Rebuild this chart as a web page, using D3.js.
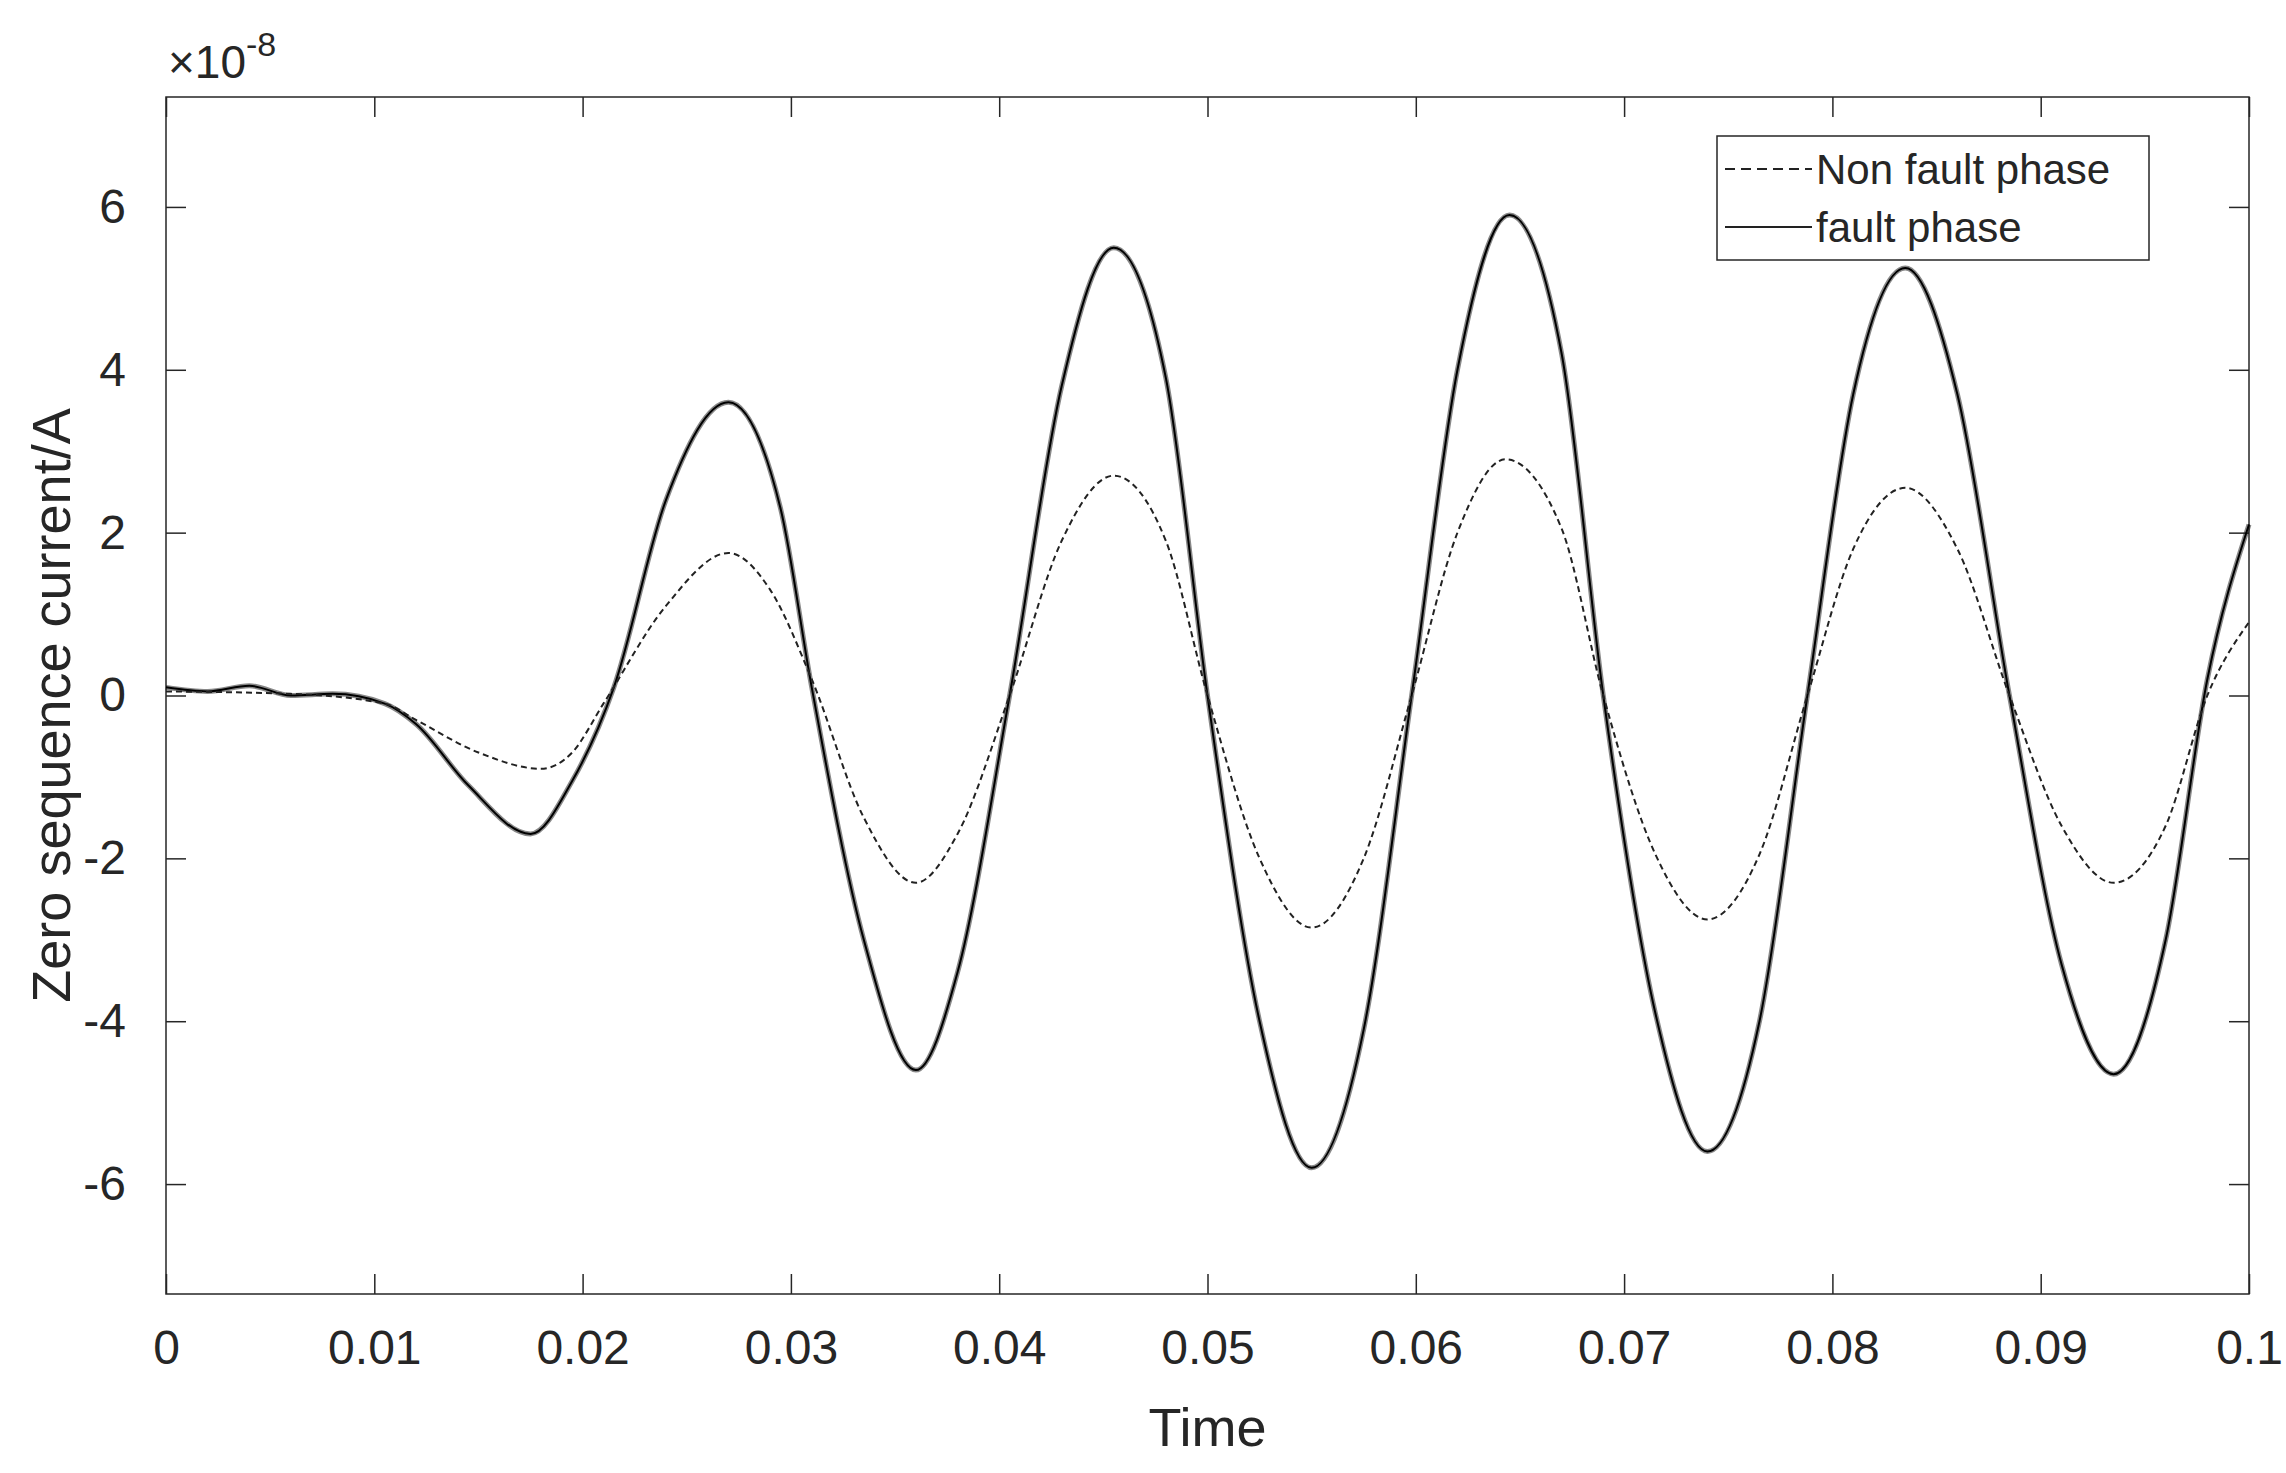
<!DOCTYPE html>
<html lang="en">
<head>
<meta charset="UTF-8">
<script src="https://d3js.org/d3.v7.min.js"></script>
<style>
  body { margin: 0; background: #fff; }
  text { font-family: Arial, "Liberation Sans", sans-serif; fill: #262626; }
</style>
</head>
<body>
<div id="chart"></div>
<script>
  // values in units of 1e-8 A
  const faultT = [0, 0.002, 0.004, 0.006, 0.008, 0.0105, 0.012, 0.0145, 0.0175, 0.0195, 0.0215, 0.024, 0.027, 0.0295, 0.031, 0.0335, 0.036, 0.038, 0.0405, 0.043, 0.0455, 0.048, 0.050, 0.0525, 0.055, 0.0575, 0.0598, 0.062, 0.0645, 0.067, 0.069, 0.0715, 0.074, 0.0765, 0.0788, 0.081, 0.0835, 0.086, 0.0885, 0.091, 0.0935, 0.096, 0.098, 0.1];
  const faultV = [0.1, 0.05, 0.12, 0.0, 0.02, -0.1, -0.35, -1.1, -1.7, -1.05, 0.1, 2.4, 3.6, 2.3, 0.1, -3.0, -4.6, -3.4, 0.0, 3.8, 5.5, 3.9, 0.0, -4.0, -5.8, -4.1, 0.0, 4.0, 5.9, 4.2, 0.0, -3.9, -5.6, -4.0, 0.0, 3.7, 5.25, 3.7, 0.0, -3.3, -4.65, -3.0, 0.2, 2.1];

  const nonT = [0, 0.006, 0.0105, 0.012, 0.015, 0.018, 0.0195, 0.021, 0.024, 0.027, 0.029, 0.031, 0.0335, 0.036, 0.038, 0.0405, 0.043, 0.0455, 0.048, 0.050, 0.0525, 0.055, 0.0575, 0.0598, 0.062, 0.0643, 0.067, 0.069, 0.0715, 0.074, 0.0765, 0.0788, 0.081, 0.0835, 0.086, 0.0885, 0.091, 0.0935, 0.096, 0.098, 0.1];
  const nonV = [0.05, 0.02, -0.1, -0.3, -0.7, -0.9, -0.7, -0.1, 1.1, 1.75, 1.3, 0.2, -1.5, -2.3, -1.7, 0.0, 1.9, 2.7, 1.9, 0.0, -2.0, -2.85, -2.0, 0.0, 2.0, 2.9, 2.05, 0.0, -1.95, -2.75, -1.95, 0.0, 1.8, 2.55, 1.8, 0.0, -1.6, -2.3, -1.6, 0.0, 0.9];

  const xTicks = [0, 0.01, 0.02, 0.03, 0.04, 0.05, 0.06, 0.07, 0.08, 0.09, 0.1];
  const yTicks = [-6, -4, -2, 0, 2, 4, 6];
  const legendLabels = ["Non fault phase", "fault phase"];

  const W = 2286, H = 1473;
  const L = 166, R = 2249, T = 97, B = 1294;

  const svg = d3.select("#chart").append("svg").attr("width", W).attr("height", H);

  const x = d3.scaleLinear().domain([0, 0.1]).range([L, R]);
  const y = d3.scaleLinear().domain([-7.35, 7.35]).range([B, T]);

  const fault = faultT.map((t, i) => [t, faultV[i]]);
  const non = nonT.map((t, i) => [t, nonV[i]]);

  const line = d3.line().x(d => x(d[0])).y(d => y(d[1])).curve(d3.curveMonotoneX);

  // axes box
  svg.append("rect").attr("x", L).attr("y", T).attr("width", R - L).attr("height", B - T)
    .attr("fill", "none").attr("stroke", "#262626").attr("stroke-width", 1.5);

  const fmt = d => d === 0 ? "0" : String(d);
  const ax = svg.append("g").attr("transform", `translate(0,${B})`)
    .call(d3.axisBottom(x).tickValues(xTicks).tickFormat(fmt).tickSizeInner(-20).tickSizeOuter(0).tickPadding(36));
  const axT = svg.append("g").attr("transform", `translate(0,${T})`)
    .call(d3.axisTop(x).tickValues(xTicks).tickFormat("").tickSizeInner(-20).tickSizeOuter(0));
  const ay = svg.append("g").attr("transform", `translate(${L},0)`)
    .call(d3.axisLeft(y).tickValues(yTicks).tickFormat(fmt).tickSizeInner(-20).tickSizeOuter(0).tickPadding(40));
  const ayR = svg.append("g").attr("transform", `translate(${R},0)`)
    .call(d3.axisRight(y).tickValues(yTicks).tickFormat("").tickSizeInner(-20).tickSizeOuter(0));
  [ax, axT, ay, ayR].forEach(g => {
    g.select(".domain").remove();
    g.selectAll("line").attr("stroke", "#262626").attr("stroke-width", 1.5);
    g.selectAll("text").style("font-size", "48px").attr("fill", "#262626");
  });

  // noisy band under the fault curve
  svg.append("path").datum(fault).attr("d", line).attr("fill", "none")
    .attr("stroke", "#111").attr("stroke-width", 5).attr("stroke-opacity", 0.5);
  svg.append("path").datum(fault).attr("d", line).attr("fill", "none")
    .attr("stroke", "#000").attr("stroke-width", 2);
  svg.append("path").datum(non).attr("d", line).attr("fill", "none")
    .attr("stroke", "#222").attr("stroke-width", 2).attr("stroke-dasharray", "6,4");

  // labels
  svg.append("text").attr("x", (L + R) / 2).attr("y", 1446).attr("text-anchor", "middle")
    .style("font-size", "54px").text("Time");
  svg.append("text").attr("transform", `translate(70,${(T + B) / 2 + 10}) rotate(-90)`)
    .attr("text-anchor", "middle").style("font-size", "54px").text("Zero sequence current/A");
  const ex = svg.append("text").attr("x", 168).attr("y", 78).style("font-size", "46px");
  ex.append("tspan").text("×10");
  ex.append("tspan").attr("dy", -22).style("font-size", "34px").text("-8");

  // legend
  const lx = 1717, ly = 136;
  svg.append("rect").attr("x", lx).attr("y", ly).attr("width", 432).attr("height", 124)
    .attr("fill", "#fff").attr("stroke", "#262626").attr("stroke-width", 1.5);
  legendLabels.forEach((lab, i) => {
    const yy = ly + 33 + i * 58;
    svg.append("line").attr("x1", lx + 8).attr("x2", lx + 95).attr("y1", yy).attr("y2", yy)
      .attr("stroke", "#222").attr("stroke-width", 2)
      .attr("stroke-dasharray", i === 0 ? "10,6" : null);
    svg.append("text").attr("x", lx + 99).attr("y", yy + 15).style("font-size", "42px").text(lab);
  });
</script>
</body>
</html>
